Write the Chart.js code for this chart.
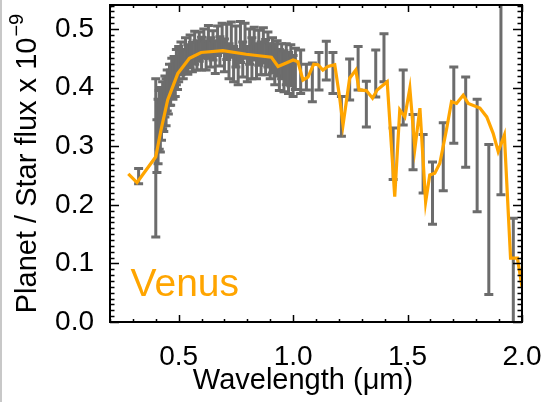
<!DOCTYPE html>
<html>
<head>
<meta charset="utf-8">
<script src="https://cdn.jsdelivr.net/npm/chart.js@4.4.1/dist/chart.umd.min.js"></script>
<style>
    body { margin: 0; background: #fff; }
    #wrap { position: relative; width: 546px; height: 402px; }
    #edge { position: absolute; left: 0; top: 0; width: 2px; height: 402px; background: #c8c8c8; }
</style>
</head>
<body>
<div id="wrap">
    <canvas id="myChart" width="546" height="402"></canvas>
    <div id="edge"></div>
</div>
<script>
// ---------------- DATA ----------------
// measured points (gray error bars)
const wavelength = [
    0.325, 0.400, 0.405, 0.410, 0.415, 0.420, 0.425, 0.430, 0.435, 0.440,
    0.445, 0.450, 0.455, 0.460, 0.465, 0.470, 0.475, 0.480, 0.485, 0.490,
    0.495, 0.500, 0.510, 0.520, 0.530, 0.540, 0.550, 0.560, 0.570, 0.580,
    0.590, 0.600, 0.610, 0.620, 0.630, 0.640, 0.650, 0.660, 0.670, 0.680,
    0.690, 0.700, 0.710, 0.720, 0.730, 0.740, 0.750, 0.760, 0.770, 0.780,
    0.790, 0.800, 0.810, 0.820, 0.830, 0.840, 0.850, 0.860, 0.870, 0.880,
    0.890, 0.900, 0.910, 0.920, 0.930, 0.940, 0.950, 0.960, 0.970, 0.980,
    0.990, 1.000, 1.010, 1.033, 1.058, 1.084, 1.113, 1.145, 1.174, 1.211,
    1.247, 1.284, 1.320, 1.361, 1.397, 1.437, 1.481, 1.524, 1.568, 1.609,
    1.656, 1.702, 1.754, 1.804, 1.855, 1.908, 1.962
];
const flux = [
    0.249, 0.280, 0.300, 0.325, 0.345, 0.330, 0.355, 0.370, 0.360, 0.385,
    0.375, 0.395, 0.385, 0.405, 0.400, 0.420, 0.410, 0.425, 0.415, 0.435,
    0.425, 0.440, 0.450, 0.440, 0.455, 0.448, 0.462, 0.452, 0.468, 0.455,
    0.470, 0.458, 0.475, 0.455, 0.478, 0.460, 0.472, 0.452, 0.480, 0.462,
    0.485, 0.455, 0.478, 0.445, 0.482, 0.440, 0.470, 0.435, 0.478, 0.448,
    0.480, 0.440, 0.470, 0.450, 0.475, 0.445, 0.468, 0.450, 0.472, 0.452,
    0.465, 0.445, 0.455, 0.440, 0.450, 0.430, 0.445, 0.428, 0.440, 0.425,
    0.438, 0.420, 0.432, 0.427, 0.418, 0.409, 0.428, 0.446, 0.425, 0.351,
    0.414, 0.433, 0.372, 0.424, 0.451, 0.287, 0.383, 0.307, 0.270, 0.220,
    0.282, 0.370, 0.341, 0.284, 0.175, 0.400, 0.060
];
const fluxErr = [
    0.013, 0.135, 0.045, 0.055, 0.050, 0.040, 0.045, 0.040, 0.035, 0.035,
    0.040, 0.035, 0.030, 0.035, 0.030, 0.030, 0.030, 0.028, 0.030, 0.030,
    0.028, 0.030, 0.028, 0.025, 0.030, 0.025, 0.028, 0.025, 0.028, 0.025,
    0.025, 0.028, 0.025, 0.025, 0.028, 0.025, 0.025, 0.028, 0.025, 0.025,
    0.025, 0.028, 0.030, 0.030, 0.030, 0.030, 0.035, 0.030, 0.035, 0.030,
    0.030, 0.030, 0.030, 0.035, 0.028, 0.030, 0.030, 0.028, 0.030, 0.030,
    0.030, 0.030, 0.030, 0.035, 0.030, 0.035, 0.030, 0.035, 0.035, 0.035,
    0.035, 0.035, 0.035, 0.037, 0.022, 0.033, 0.032, 0.033, 0.035, 0.034,
    0.035, 0.037, 0.039, 0.040, 0.041, 0.044, 0.047, 0.047, 0.050, 0.053,
    0.058, 0.065, 0.077, 0.096, 0.128, 0.183, 0.117
];

// model spectrum (orange line)
const modelWavelength = [
    0.280, 0.318, 0.400, 0.423, 0.452, 0.496, 0.547, 0.598, 0.693, 0.795,
    0.905, 0.934, 0.970, 1.000, 1.021, 1.043, 1.065, 1.090, 1.109, 1.130,
    1.152, 1.182, 1.203, 1.218, 1.247, 1.274, 1.288, 1.320, 1.347, 1.367,
    1.411, 1.444, 1.466, 1.488, 1.510, 1.532, 1.554, 1.579, 1.597, 1.619,
    1.641, 1.670, 1.692, 1.714, 1.743, 1.765, 1.816, 1.846, 1.874, 1.896,
    1.923, 1.950, 1.980, 2.000
];
const modelFlux = [
    0.253, 0.238, 0.282, 0.328, 0.379, 0.424, 0.450, 0.460, 0.463, 0.457,
    0.452, 0.436, 0.442, 0.447, 0.444, 0.413, 0.418, 0.440, 0.439, 0.430,
    0.436, 0.439, 0.384, 0.336, 0.416, 0.430, 0.396, 0.395, 0.382, 0.396,
    0.410, 0.214, 0.362, 0.350, 0.399, 0.296, 0.365, 0.205, 0.251, 0.254,
    0.271, 0.328, 0.376, 0.373, 0.387, 0.373, 0.365, 0.350, 0.322, 0.291,
    0.319, 0.109, 0.109, 0.060
];

const xTicks = [0.5, 1.0, 1.5, 2.0];
const yTicks = [0.0, 0.1, 0.2, 0.3, 0.4, 0.5];
const xMinorStep = 0.1;
const yMinorStep = 0.01;

const GRAY = "rgb(108,108,108)";
const ORANGE = "rgb(255,165,0)";
const FONT = "'Liberation Sans', Arial, Helvetica, sans-serif";

// ---------------- ERROR BARS ----------------
const errorBars = {
    id: "errorBars",
    beforeDatasetsDraw(chart) {
        const { ctx, chartArea: a, scales: { x, y } } = chart;
        ctx.save();
        ctx.beginPath();
        ctx.rect(a.left, a.top, a.right - a.left, a.bottom - a.top);
        ctx.clip();
        ctx.strokeStyle = GRAY;
        ctx.lineWidth = 3;
        const cap = 4.5;
        for (let i = 0; i < wavelength.length; i++) {
            const px = x.getPixelForValue(wavelength[i]);
            const hi = y.getPixelForValue(flux[i] + fluxErr[i]);
            const lo = y.getPixelForValue(flux[i] - fluxErr[i]);
            ctx.beginPath();
            ctx.moveTo(px, hi); ctx.lineTo(px, lo);
            ctx.moveTo(px - cap, hi); ctx.lineTo(px + cap, hi);
            ctx.moveTo(px - cap, lo); ctx.lineTo(px + cap, lo);
            ctx.stroke();
        }
        ctx.restore();
    }
};

// ---------------- FRAME, INWARD TICKS, TITLES ----------------
const frame = {
    id: "frame",
    afterDraw(chart) {
        const { ctx, chartArea: a, scales: { x, y } } = chart;
        ctx.save();
        ctx.strokeStyle = "#000";
        ctx.lineWidth = 1.5;

        // x ticks, bottom and top
        for (let v = x.min; v <= x.max + 1e-9; v += xMinorStep) {
            const major = xTicks.some(t => Math.abs(t - v) < 1e-6);
            const len = major ? 7 : 3;
            const px = Math.round(x.getPixelForValue(v)) + 0.5;
            ctx.beginPath();
            ctx.moveTo(px, a.bottom); ctx.lineTo(px, a.bottom - len);
            ctx.moveTo(px, a.top); ctx.lineTo(px, a.top + len);
            ctx.stroke();
        }
        // y ticks, left and right
        for (let v = 0; v <= y.max + 1e-9; v += yMinorStep) {
            const major = yTicks.some(t => Math.abs(t - v) < 1e-6);
            const len = major ? 9 : 4.5;
            const py = Math.round(y.getPixelForValue(v)) + 0.5;
            ctx.beginPath();
            ctx.moveTo(a.left, py); ctx.lineTo(a.left + len, py);
            ctx.moveTo(a.right, py); ctx.lineTo(a.right - len, py);
            ctx.stroke();
        }

        ctx.lineWidth = 2;
        ctx.strokeRect(a.left, a.top, a.right - a.left, a.bottom - a.top);

        // planet label
        ctx.fillStyle = ORANGE;
        ctx.font = "39px " + FONT;
        ctx.textBaseline = "alphabetic";
        ctx.textAlign = "left";
        ctx.fillText("Venus", x.getPixelForValue(0.29), y.getPixelForValue(0.045));

        // x title
        ctx.fillStyle = "#000";
        ctx.font = "29px " + FONT;
        ctx.textAlign = "center";
        ctx.textBaseline = "middle";
        ctx.fillText("Wavelength (μm)", (a.left + a.right) / 2 - 13, a.bottom + 59);

        // y title with superscript exponent
        const main = "Planet / Star flux x 10";
        const sup = "\u22129";
        ctx.font = "29px " + FONT;
        const wMain = ctx.measureText(main).width;
        ctx.font = "20px " + FONT;
        const wSup = ctx.measureText(sup).width;
        ctx.translate(36, (a.top + a.bottom) / 2);
        ctx.rotate(-Math.PI / 2);
        ctx.textAlign = "left";
        ctx.textBaseline = "alphabetic";
        const start = -(wMain + wSup + 1) / 2;
        ctx.font = "29px " + FONT;
        ctx.fillText(main, start, 0);
        ctx.font = "20px " + FONT;
        ctx.fillText(sup, start + wMain + 1, -13);
        ctx.restore();
    }
};

// keep the plot box where the reference has it
function noPadding(s) {
    s.paddingTop = 0;
    s.paddingBottom = 0;
    s.paddingLeft = 0;
    s.paddingRight = 0;
}

// ---------------- CHART ----------------
const ctx = document.getElementById("myChart").getContext("2d");

const chart = new Chart(ctx, {
    type: "line",
    data: {
        datasets: [{
            label: "Venus",
            data: modelWavelength.map((w, i) => ({ x: w, y: modelFlux[i] })),
            borderColor: ORANGE,
            borderWidth: 3.2,
            pointRadius: 0,
            tension: 0,
            fill: false
        }]
    },
    options: {
        responsive: false,
        animation: false,
        layout: { padding: { left: 0, top: 5, right: 24, bottom: 0 } },
        plugins: {
            legend: { display: false },
            tooltip: { enabled: false }
        },
        scales: {
            x: {
                type: "linear",
                min: 0.2,
                max: 2.0,
                grid: { display: false },
                border: { display: false },
                afterBuildTicks: s => { s.ticks = xTicks.map(v => ({ value: v })); },
                afterFit: s => { s.height = 80; noPadding(s); },
                ticks: {
                    color: "#000",
                    padding: 10,
                    maxRotation: 0,
                    font: { family: FONT, size: 28 },
                    callback: v => v.toFixed(1)
                },
                title: { display: false }
            },
            y: {
                type: "linear",
                min: 0,
                max: 0.541,
                grid: { display: false },
                border: { display: false },
                afterBuildTicks: s => { s.ticks = yTicks.map(v => ({ value: v })); },
                afterFit: s => { s.width = 110; noPadding(s); },
                ticks: {
                    color: "#000",
                    padding: 8,
                    font: { family: FONT, size: 28 },
                    callback: v => v.toFixed(1)
                },
                title: { display: false }
            }
        }
    },
    plugins: [errorBars, frame]
});
</script>
</body>
</html>
